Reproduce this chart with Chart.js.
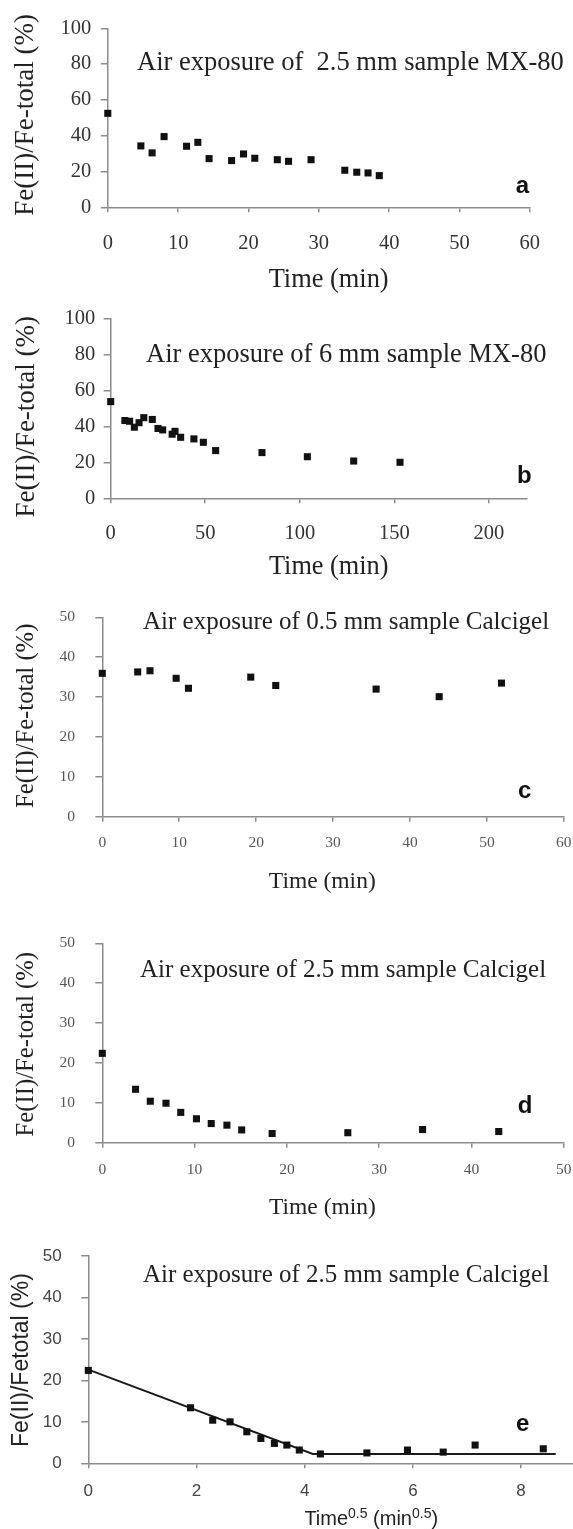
<!DOCTYPE html>
<html>
<head>
<meta charset="utf-8">
<title>Fe(II)/Fe-total during air exposure</title>
<script src="https://cdn.jsdelivr.net/npm/chart.js@4.4.1/dist/chart.umd.min.js"></script>
<style>
  html, body { margin: 0; padding: 0; background: #fff; }
  body { position: relative; width: 573px; height: 1529px; overflow: hidden; }
  canvas { position: absolute; left: 0; }
</style>
</head>
<body>
<canvas id="panelA" width="573" height="300" style="top:0px"></canvas>
<canvas id="panelB" width="573" height="310" style="top:300px"></canvas>
<canvas id="panelC" width="573" height="310" style="top:610px"></canvas>
<canvas id="panelD" width="573" height="310" style="top:920px"></canvas>
<canvas id="panelE" width="600" height="299" style="top:1230px"></canvas>
<script>
// (a) 2.5 mm MX-80 sample
const timeA = [0, 4.7, 6.3, 8.0, 11.2, 12.8, 14.4, 17.6, 19.3, 20.9, 24.1, 25.7, 28.9, 33.7, 35.4, 37.0, 38.6];
const fe2A  = [52.5, 34.3, 30.4, 39.5, 34.1, 36.3, 27.2, 26.1, 29.8, 27.4, 26.6, 25.7, 26.6, 20.7, 19.6, 19.2, 17.7];

// (b) 6 mm MX-80 sample
const timeB = [0, 7.5, 10, 12.5, 15, 17.5, 22, 25, 27.5, 32.5, 34, 37, 44, 49, 55.5, 80, 104, 128.5, 153];
const fe2B  = [53.7, 43.2, 42.8, 39.5, 42.0, 44.8, 43.8, 38.8, 38.0, 35.6, 37.2, 33.9, 33.0, 31.1, 26.5, 25.4, 23.1, 20.7, 20.0];

// (c) 0.5 mm Calcigel sample
const timeC = [0, 4.6, 6.2, 9.6, 11.2, 19.3, 22.55, 35.6, 43.8, 51.9];
const fe2C  = [35.95, 36.3, 36.6, 34.7, 32.2, 35.0, 32.9, 32.0, 30.1, 33.5];

// (d) 2.5 mm Calcigel sample
const timeD = [0, 3.6, 5.2, 6.9, 8.5, 10.2, 11.8, 13.5, 15.1, 18.4, 26.6, 34.7, 42.95];
const fe2D  = [22.4, 13.4, 10.4, 9.9, 7.6, 6.0, 4.8, 4.4, 3.2, 2.3, 2.5, 3.3, 2.8];

// (e) same sample against square root of time, with two-segment fit
const sqrtTimeE = [0, 1.89, 2.30, 2.62, 2.93, 3.19, 3.44, 3.67, 3.90, 4.29, 5.15, 5.90, 6.56, 7.15, 8.41];
const fe2E      = [22.4, 13.4, 10.4, 10.0, 7.6, 6.0, 4.8, 4.4, 3.2, 2.25, 2.5, 3.2, 2.7, 4.4, 3.5];
const fitSqrtTimeE = [0, 4.15, 8.64];
const fitFe2E      = [22.6, 2.25, 2.25];

// axis tick steps
const yStepMX = 20, yStepCalc = 10;
const xStepA = 10, xStepB = 50, xStepC = 10, xStepD = 10, xStepE = 2;

const SERIF = "'Liberation Serif', 'Times New Roman', serif";
const SANS = "'Liberation Sans', Arial, sans-serif";
const AXIS_GRAY = '#8c8c8c';
const MARK = '#111';

const toXY = (xs, ys) => xs.map((v, i) => ({ x: v, y: ys[i] }));

// Draws free text (panel caption, panel letter, axis titles) anchored to the chart scales
function textLayer(items) {
  return {
    id: 'textLayer',
    afterDraw(chart) {
      const { ctx, chartArea, scales } = chart;
      items.forEach(it => {
        const px = it.left !== undefined ? chartArea.left + it.left : scales.x.getPixelForValue(it.x);
        const py = it.below !== undefined ? chartArea.bottom + it.below : scales.y.getPixelForValue(it.y);
        ctx.save();
        ctx.fillStyle = it.color || '#222';
        ctx.translate(px, py);
        if (it.rotate) ctx.rotate(it.rotate);
        if (it.parts) {
          const widths = it.parts.map(p => {
            ctx.font = p.sup ? it.supFont : it.font;
            return ctx.measureText(p.t).width;
          });
          const total = widths.reduce((a, b) => a + b, 0);
          let cx = -total / 2;
          ctx.textAlign = 'left';
          ctx.textBaseline = 'alphabetic';
          it.parts.forEach((p, i) => {
            ctx.font = p.sup ? it.supFont : it.font;
            ctx.fillText(p.t, cx, p.sup ? -it.rise : 0);
            cx += widths[i];
          });
        } else {
          ctx.font = it.font;
          ctx.textAlign = it.align || 'center';
          ctx.textBaseline = it.baseline || 'middle';
          ctx.fillText(it.text, 0, 0);
        }
        ctx.restore();
      });
    }
  };
}

function onStep(step) {
  return scale => {
    scale.ticks = scale.ticks.filter(t => Math.abs(t.value / step - Math.round(t.value / step)) < 1e-6);
  };
}

function makePanel(id, cfg) {
  const canvas = document.getElementById(id);
  const W = canvas.width, H = canvas.height;
  const xAxisH = 60;
  const tickFont = { family: cfg.tickFamily, size: cfg.tickSize };
  return new Chart(canvas, {
    type: 'scatter',
    data: { datasets: cfg.datasets },
    plugins: [textLayer(cfg.texts)],
    options: {
      responsive: false,
      animation: false,
      devicePixelRatio: 1,
      layout: {
        padding: {
          left: 0,
          top: cfg.area.top,
          right: W - cfg.area.right,
          bottom: H - cfg.area.bottom - xAxisH
        }
      },
      plugins: { legend: { display: false }, tooltip: { enabled: false } },
      scales: {
        x: {
          type: 'linear',
          position: 'bottom',
          min: cfg.x.min,
          max: cfg.x.max,
          afterBuildTicks: onStep(cfg.x.step),
          ticks: { stepSize: cfg.x.step, includeBounds: false, padding: cfg.x.pad, font: tickFont, color: cfg.tickColor, autoSkip: false, maxRotation: 0 },
          grid: { drawOnChartArea: false, drawTicks: true, tickLength: 5, color: AXIS_GRAY, lineWidth: 1.5 },
          border: { color: AXIS_GRAY, width: 1.5 },
          afterFit(s) { s.height = xAxisH; s.paddingLeft = 0; s.paddingRight = 0; }
        },
        y: {
          type: 'linear',
          position: 'left',
          min: cfg.y.min,
          max: cfg.y.max,
          afterBuildTicks: onStep(cfg.y.step),
          ticks: { stepSize: cfg.y.step, includeBounds: false, padding: cfg.y.pad, font: tickFont, color: cfg.tickColor, autoSkip: false },
          grid: { drawOnChartArea: false, drawTicks: true, tickLength: 7, color: AXIS_GRAY, lineWidth: 1.5 },
          border: { color: AXIS_GRAY, width: 1.5 },
          afterFit(s) { s.width = cfg.area.left; s.paddingTop = 0; s.paddingBottom = 0; }
        }
      }
    }
  });
}

function markers(xs, ys) {
  return {
    data: toXY(xs, ys),
    pointStyle: 'rect',
    pointRadius: 5,
    pointBackgroundColor: MARK,
    pointBorderColor: MARK,
    pointBorderWidth: 0,
    showLine: false,
    clip: false
  };
}

const serifTitle = size => `${size}px ${SERIF}`;
const yTitle = 'Fe(II)/Fe-total (%)';

// (a)
makePanel('panelA', {
  area: { left: 107.8, right: 529.8, top: 28.3, bottom: 207.3 },
  x: { min: 0, max: 60, step: xStepA, pad: 19 },
  y: { min: 0, max: 100, step: yStepMX, pad: 9.5 },
  tickFamily: SERIF, tickSize: 20.5, tickColor: '#333',
  datasets: [markers(timeA, fe2A)],
  texts: [
    { text: 'Air exposure of  2.5 mm sample MX-80', x: 4.15, y: 80.6, align: 'left', font: serifTitle(26.5) },
    { text: 'a', x: 58.96, y: 11.5, font: `bold 24px ${SANS}`, color: '#111' },
    { text: 'Time (min)', x: 31.4, below: 72.7, font: serifTitle(26.4) },
    { text: yTitle, left: -82.2, y: 51.6, rotate: -Math.PI / 2, font: serifTitle(27) }
  ]
});

// (b)
makePanel('panelB', {
  area: { left: 110.7, right: 526.7, top: 18.3, bottom: 198.3 },
  x: { min: 0, max: 220, step: xStepB, pad: 18 },
  y: { min: 0, max: 100, step: yStepMX, pad: 8.4 },
  tickFamily: SERIF, tickSize: 20.5, tickColor: '#333',
  datasets: [markers(timeB, fe2B)],
  texts: [
    { text: 'Air exposure of 6 mm sample MX-80', x: 18.7, y: 79.6, align: 'left', font: serifTitle(26.5) },
    { text: 'b', x: 218.7, y: 12.4, font: `bold 24px ${SANS}`, color: '#111' },
    { text: 'Time (min)', x: 115.3, below: 68.4, font: serifTitle(26.3) },
    { text: yTitle, left: -83.3, y: 45.3, rotate: -Math.PI / 2, font: serifTitle(27) }
  ]
});

// (c)
makePanel('panelC', {
  area: { left: 102.3, right: 563.8, top: 7.3, bottom: 206.7 },
  x: { min: 0, max: 60, step: xStepC, pad: 12.3 },
  y: { min: 0, max: 50, step: yStepCalc, pad: 20.3 },
  tickFamily: SERIF, tickSize: 15.5, tickColor: '#555',
  datasets: [markers(timeC, fe2C)],
  texts: [
    { text: 'Air exposure of 0.5 mm sample Calcigel', x: 5.29, y: 48.6, align: 'left', font: serifTitle(25) },
    { text: 'c', x: 54.9, y: 6.3, font: `bold 24px ${SANS}`, color: '#111' },
    { text: 'Time (min)', x: 28.6, below: 65, font: serifTitle(23.5) },
    { text: yTitle, left: -75.8, y: 25.3, rotate: -Math.PI / 2, font: serifTitle(24.7) }
  ]
});

// (d)
makePanel('panelD', {
  area: { left: 102.3, right: 563.8, top: 23.3, bottom: 222.7 },
  x: { min: 0, max: 50, step: xStepD, pad: 13 },
  y: { min: 0, max: 50, step: yStepCalc, pad: 20.3 },
  tickFamily: SERIF, tickSize: 15.5, tickColor: '#555',
  datasets: [markers(timeD, fe2D)],
  texts: [
    { text: 'Air exposure of 2.5 mm sample Calcigel', x: 4.08, y: 43.3, align: 'left', font: serifTitle(25) },
    { text: 'd', x: 45.8, y: 9.0, font: `bold 24px ${SANS}`, color: '#111' },
    { text: 'Time (min)', x: 23.85, below: 65.6, font: serifTitle(23.5) },
    { text: yTitle, left: -75.8, y: 24.7, rotate: -Math.PI / 2, font: serifTitle(24.7) }
  ]
});

// (e)
makePanel('panelE', {
  area: { left: 88.3, right: 575.2, top: 26, bottom: 233.3 },
  x: { min: 0, max: 9, step: xStepE, pad: 13 },
  y: { min: 0, max: 50, step: yStepCalc, pad: 19.6 },
  tickFamily: SANS, tickSize: 17, tickColor: '#444',
  datasets: [
    markers(sqrtTimeE, fe2E),
    {
      data: toXY(fitSqrtTimeE, fitFe2E),
      showLine: true,
      borderColor: '#1a1a1a',
      borderWidth: 2,
      pointRadius: 0,
      fill: false
    }
  ],
  texts: [
    { text: 'Air exposure of 2.5 mm sample Calcigel', x: 1.01, y: 45.4, align: 'left', font: serifTitle(25) },
    { text: 'e', x: 8.03, y: 9.3, font: `bold 24px ${SANS}`, color: '#111' },
    {
      x: 5.23, below: 61.7, font: `20px ${SANS}`, supFont: `14px ${SANS}`, rise: 7,
      parts: [{ t: 'Time' }, { t: '0.5', sup: true }, { t: ' (min' }, { t: '0.5', sup: true }, { t: ')' }]
    },
    { text: 'Fe(II)/Fetotal (%)', left: -66.6, y: 24.9, rotate: -Math.PI / 2, font: `23px ${SANS}` }
  ]
});
</script>
</body>
</html>
